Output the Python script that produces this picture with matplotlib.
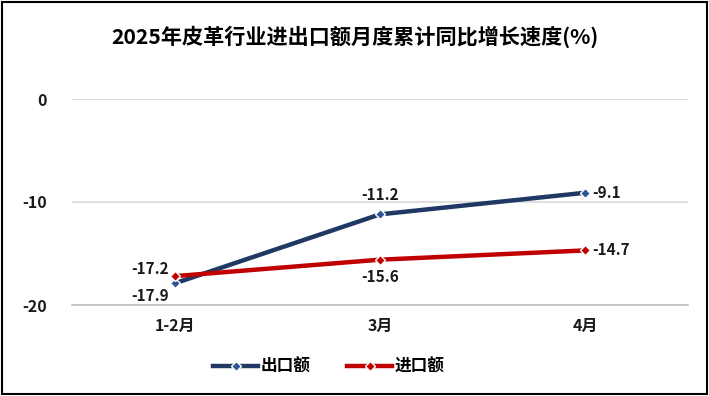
import matplotlib
matplotlib.use("Agg")
import matplotlib.pyplot as plt
from matplotlib.patches import Rectangle

plt.rcParams['font.family'] = ['Noto Sans CJK SC', 'DejaVu Sans']
plt.rcParams['axes.unicode_minus'] = False

# 数据
categories = ["1-2月", "3月", "4月"]
export_vals = [-17.9, -11.2, -9.1]
import_vals = [-17.2, -15.6, -14.7]
series_names = ["出口额", "进口额"]
y_ticks = [0, -10, -20]

navy = "#203864"
red = "#C00000"

fig = plt.figure(figsize=(7.09, 3.96), dpi=100)
ax = fig.add_axes([72 / 709, 1 - 305 / 396, 616 / 709, 206 / 396])

x = list(range(len(categories)))
ax.plot(x, export_vals, color=navy, lw=3.2, marker="D", ms=5.5,
        mfc="#2F5597", mec="white", mew=1, label=series_names[0], zorder=3)
ax.plot(x, import_vals, color=red, lw=3.2, marker="D", ms=5.5,
        mfc=red, mec="white", mew=1, label=series_names[1], zorder=3)

# 数据标签
lab = dict(fontsize=11, fontweight="bold", color="#1a1a1a")
offs_exp = [(-4, -9, "right", "center"), (0, 8, "center", "bottom"), (5, 0, "left", "center")]
offs_imp = [(-4, 5, "right", "center"), (0, -7, "center", "top"), (5, 0, "left", "center")]
for i, v in enumerate(export_vals):
    dx, dy, ha, va = offs_exp[i]
    ax.annotate(f"{v}", (x[i], v), xytext=(dx, dy), textcoords="offset points",
                ha=ha, va=va, **lab)
for i, v in enumerate(import_vals):
    dx, dy, ha, va = offs_imp[i]
    ax.annotate(f"{v}", (x[i], v), xytext=(dx, dy), textcoords="offset points",
                ha=ha, va=va, **lab)

ax.set_xlim(-0.5, 2.5)
ax.set_ylim(-20, 0)
ax.set_yticks(y_ticks)
ax.set_xticks(x)
ax.set_xticklabels(categories)
ax.grid(axis="y", color="#D9D9D9", lw=1.2)
ax.set_axisbelow(True)
for s in ["top", "right", "left"]:
    ax.spines[s].set_visible(False)
ax.spines["bottom"].set_color("#BFBFBF")
ax.spines["bottom"].set_linewidth(1.2)
ax.tick_params(axis="y", length=0, labelsize=11.5, colors="#1a1a1a", pad=18)
ax.tick_params(axis="x", length=0, labelsize=11.5, colors="#1a1a1a", pad=9)
for t in ax.get_xticklabels() + ax.get_yticklabels():
    t.set_fontweight("bold")

fig.text(0.5, 1 - 37 / 396, "2025年皮革行业进出口额月度累计同比增长速度(%)",
         ha="center", va="center", fontsize=15.2, fontweight="bold")

leg = ax.legend(loc="center", bbox_to_anchor=(0.417, -0.3), ncol=2, frameon=False,
                prop={"size": 12, "weight": "bold"}, handlelength=2.7,
                columnspacing=2.2, handletextpad=0.15)

# 外框
fig.patches.append(Rectangle((0.003, 0.004), 0.994, 0.992, transform=fig.transFigure,
                             fill=False, edgecolor="black", lw=1.5))

fig.savefig("out.png", dpi=100)
